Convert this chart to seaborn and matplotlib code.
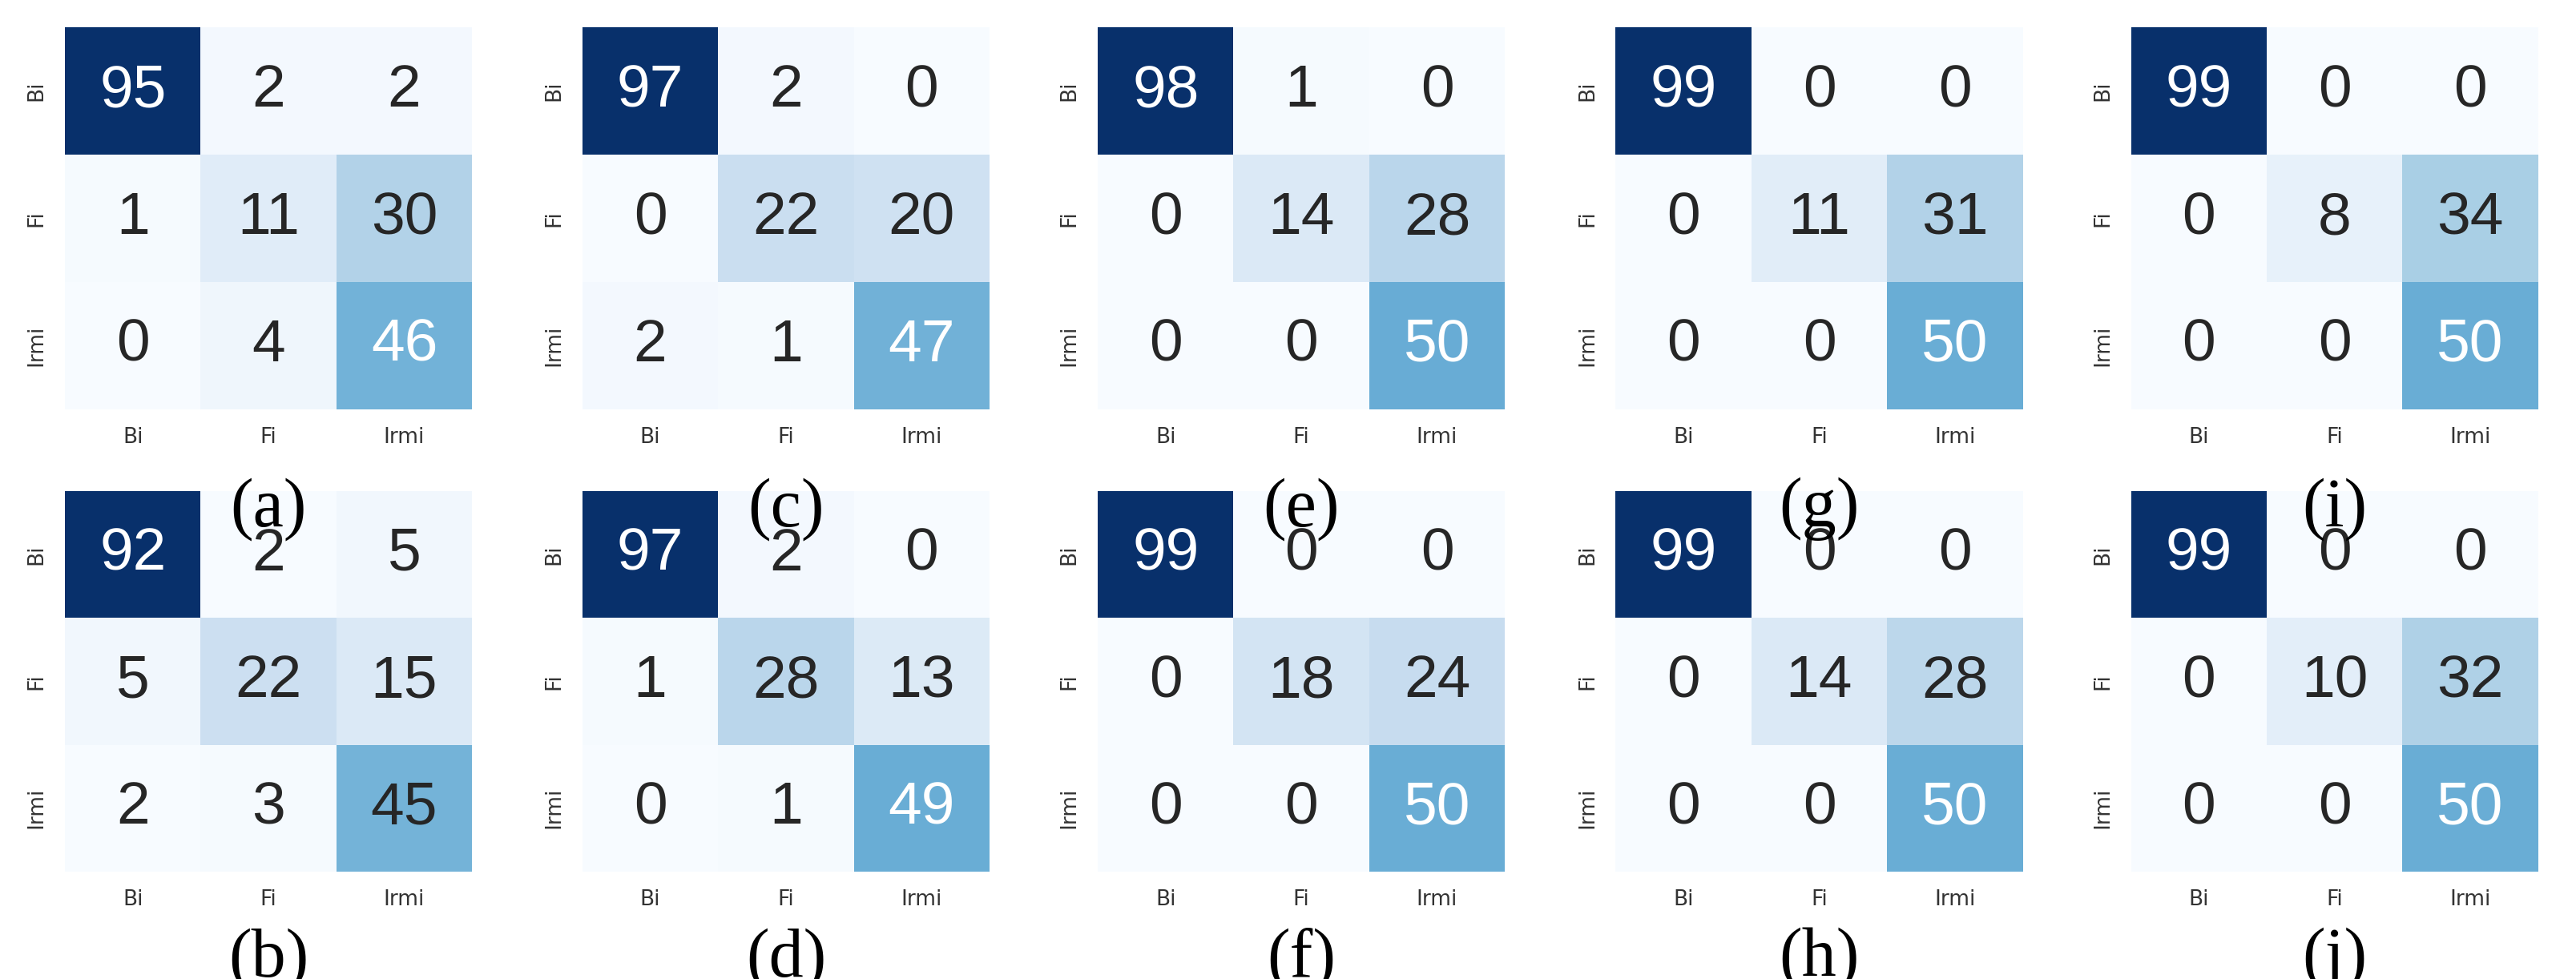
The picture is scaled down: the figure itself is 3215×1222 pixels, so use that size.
import numpy as np
import matplotlib
matplotlib.use("Agg")
import matplotlib.pyplot as plt
import seaborn as sns

classes = ["Bi", "Fi", "Irmi"]
cm_a = [[95, 2, 2], [1, 11, 30], [0, 4, 46]]
cm_b = [[92, 2, 5], [5, 22, 15], [2, 3, 45]]
cm_c = [[97, 2, 0], [0, 22, 20], [2, 1, 47]]
cm_d = [[97, 2, 0], [1, 28, 13], [0, 1, 49]]
cm_e = [[98, 1, 0], [0, 14, 28], [0, 0, 50]]
cm_f = [[99, 0, 0], [0, 18, 24], [0, 0, 50]]
cm_g = [[99, 0, 0], [0, 11, 31], [0, 0, 50]]
cm_h = [[99, 0, 0], [0, 14, 28], [0, 0, 50]]
cm_i = [[99, 0, 0], [0, 8, 34], [0, 0, 50]]
cm_j = [[99, 0, 0], [0, 10, 32], [0, 0, 50]]

top_row = [("(a)", cm_a), ("(c)", cm_c), ("(e)", cm_e), ("(g)", cm_g), ("(i)", cm_i)]
bottom_row = [("(b)", cm_b), ("(d)", cm_d), ("(f)", cm_f), ("(h)", cm_h), ("(j)", cm_j)]

fig = plt.figure(figsize=(32.16, 12.22), dpi=100)
lefts = [0.0252, 0.226, 0.426, 0.627, 0.827]
w = 0.158
rows = [(top_row, 0.582, 0.39, 0.48), (bottom_row, 0.110, 0.388, 0.02)]

for panels, bottom, h, cap_y in rows:
    for left, (label, cm) in zip(lefts, panels):
        ax = fig.add_axes([left, bottom, w, h])
        sns.heatmap(np.array(cm), annot=True, fmt="d", cmap="Blues", cbar=False,
                    xticklabels=classes, yticklabels=classes, ax=ax,
                    annot_kws={"fontsize": 54, "family": "Liberation Sans"})
        ax.tick_params(length=0, labelsize=19, pad=16, labelcolor="#333333")
        fig.text(left + w / 2, cap_y, label, ha="center", va="center",
                 fontsize=62, family="Liberation Serif")

fig.savefig("out.png", dpi=100)
